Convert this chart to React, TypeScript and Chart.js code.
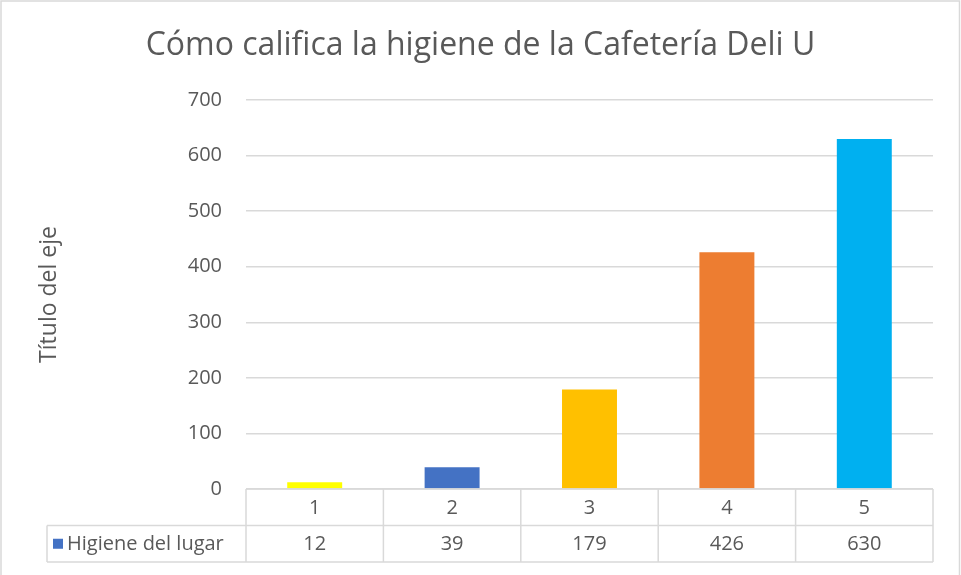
import React, { useEffect, useRef } from "react";
import { Chart, registerables } from "chart.js";

Chart.register(...registerables);

const categories = ["1", "2", "3", "4", "5"];
const seriesName = "Higiene del lugar";
const values = [12, 39, 179, 426, 630];
const barColors = ["#FFFF00", "#4472C4", "#FFC000", "#ED7D31", "#00B0F0"];
const titleText = "Cómo califica la higiene de la Cafetería Deli U";
const yAxisTitle = "Título del eje";
const FONT = "'Open Sans', sans-serif";
const TEXT = "#595959";
const LINE = "#D9D9D9";

const tablePlugin = {
  id: "dataTable",
  afterDraw(chart: any) {
    const ctx = chart.ctx;
    const area = chart.chartArea;
    const x = chart.scales.x;
    const n = categories.length;
    const colW = (area.right - area.left) / n;
    const top = area.bottom;
    const rowH = 36.5;
    const legendLeft = 47;
    ctx.save();
    // title, centred on the whole chart
    ctx.fillStyle = TEXT;
    ctx.font = `32px ${FONT}`;
    ctx.textAlign = "center";
    ctx.textBaseline = "middle";
    ctx.fillText(titleText, chart.width / 2, 46);

    ctx.strokeStyle = LINE;
    ctx.lineWidth = 1.5;
    ctx.beginPath();
    ctx.moveTo(area.left, top);
    ctx.lineTo(area.right, top);
    ctx.moveTo(legendLeft, top + rowH);
    ctx.lineTo(area.right, top + rowH);
    ctx.moveTo(legendLeft, top + 2 * rowH);
    ctx.lineTo(area.right, top + 2 * rowH);
    for (let i = 0; i <= n; i++) {
      const cx = area.left + i * colW;
      ctx.moveTo(cx, top);
      ctx.lineTo(cx, top + 2 * rowH);
    }
    ctx.moveTo(legendLeft, top + rowH);
    ctx.lineTo(legendLeft, top + 2 * rowH);
    ctx.stroke();

    ctx.fillStyle = TEXT;
    ctx.font = `20px ${FONT}`;
    ctx.textAlign = "center";
    ctx.textBaseline = "middle";
    categories.forEach((c, i) => {
      const cx = x.getPixelForValue(i);
      ctx.fillText(c, cx, top + rowH / 2 + 1);
      ctx.fillText(String(values[i]), cx, top + rowH * 1.5 + 1);
    });
    ctx.fillStyle = "#4472C4";
    ctx.fillRect(legendLeft + 6, top + rowH * 1.5 - 5, 10, 10);
    ctx.fillStyle = TEXT;
    ctx.textAlign = "left";
    ctx.fillText(seriesName, legendLeft + 20, top + rowH * 1.5 + 1);

    // outer border
    ctx.strokeStyle = LINE;
    ctx.lineWidth = 1.5;
    ctx.strokeRect(1, 1, 958.5, 580);
    ctx.restore();
  },
};

export default function App() {
  const ref = useRef<HTMLCanvasElement>(null);
  useEffect(() => {
    const chart = new Chart(ref.current as HTMLCanvasElement, {
      type: "bar",
      data: {
        labels: categories,
        datasets: [
          {
            label: seriesName,
            data: values,
            backgroundColor: barColors,
            barPercentage: 0.4,
            categoryPercentage: 1,
          },
        ],
      },
      options: {
        animation: false,
        responsive: false,
        layout: { padding: { left: 0, right: 28, top: 100, bottom: 86 } },
        plugins: {
          legend: { display: false },
          tooltip: { enabled: false },
          title: { display: false },
        },
        scales: {
          x: { display: false },
          y: {
            min: 0,
            max: 700,
            ticks: {
              stepSize: 100,
              color: TEXT,
              font: { family: FONT, size: 20 },
              padding: 24,
            },
            border: { display: false },
            grid: { color: LINE, lineWidth: 1.5, drawTicks: false },
            title: {
              display: true,
              text: yAxisTitle,
              color: TEXT,
              font: { family: FONT, size: 23 },
              padding: { top: 36, bottom: 0 },
            },
            afterFit: (s: any) => {
              s.width = 246;
            },
          },
        },
      },
      plugins: [tablePlugin],
    });
    return () => chart.destroy();
  }, []);
  return (
    <div style={{ position: "fixed", left: 0, top: 0, width: 961, height: 575, background: "#fff" }}>
      <canvas ref={ref} width={961} height={575} />
    </div>
  );
}
